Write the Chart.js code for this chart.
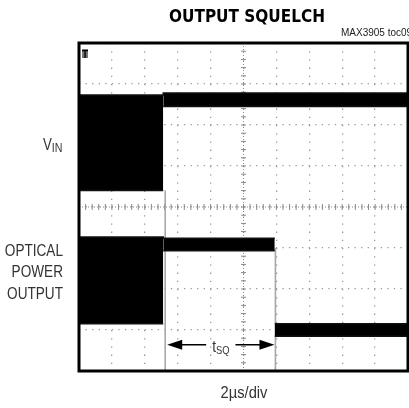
<!DOCTYPE html>
<html>
<head>
<meta charset="utf-8">
<script src="https://cdn.jsdelivr.net/npm/chart.js@4/dist/chart.umd.min.js"></script>
<style>
  html, body { margin: 0; padding: 0; background: #fff; }
  #c { display: block; }
</style>
</head>
<body>
<canvas id="c" width="409" height="408"></canvas>
<script>
// ---- Data (x in time divisions, 2 µs/div; y in vertical divisions) ----
const titleText = "OUTPUT SQUELCH";
const partText = "MAX3905 toc09";
const xLabel = "2\u00B5s/div";
const xDivisions = [0, 10];
const yDivisions = [0, 8];

// V_IN noise band (upper and lower envelope)
const vinUpperX = [0, 2.56, 2.56, 10];
const vinUpperY = [6.73, 6.73, 6.78, 6.78];
const vinLowerX = [0, 2.56, 2.56, 10];
const vinLowerY = [4.40, 4.40, 6.45, 6.45];

// Optical power output noise band (upper and lower envelope)
const optUpperX = [0, 2.56, 2.56, 5.95, 5.95, 10];
const optUpperY = [3.27, 3.27, 3.24, 3.24, 1.15, 1.15];
const optLowerX = [0, 2.56, 2.56, 5.95, 5.95, 10];
const optLowerY = [1.15, 1.15, 2.93, 2.93, 0.85, 0.85];

// squelch timing cursors (start / end of t_SQ)
const tSqStart = 2.62;
const tSqEnd = 5.97;
const cursorTopStart = 4.40;
const cursorTopEnd = 3.00;
const arrowLevel = 0.64;

const zip = (xs, ys) => xs.map((x, i) => ({ x: x, y: ys[i] }));

const segStyle = {
  borderColor: ctx => (ctx.p0.parsed.x === ctx.p1.parsed.x && Math.abs(ctx.p0.parsed.y - ctx.p1.parsed.y) > 1) ? 'rgba(0,0,0,0)' : '#111'
};

const bandBase = {
  pointRadius: 0, tension: 0, borderWidth: 1.5, borderColor: '#111',
  backgroundColor: '#000', segment: segStyle
};

const data = {
  datasets: [
    { ...bandBase, label: 'vinU', data: zip(vinUpperX, vinUpperY), fill: false },
    { ...bandBase, label: 'vinL', data: zip(vinLowerX, vinLowerY), fill: '-1' },
    { ...bandBase, label: 'optU', data: zip(optUpperX, optUpperY), fill: false },
    { ...bandBase, label: 'optL', data: zip(optLowerX, optLowerY), fill: '-1' },
    { label: 'cur1', data: [{x: tSqStart, y: yDivisions[0]}, {x: tSqStart, y: cursorTopStart}],
      pointRadius: 0, borderColor: '#a8a8a8', borderWidth: 1.6, fill: false },
    { label: 'cur2', data: [{x: tSqEnd, y: yDivisions[0]}, {x: tSqEnd, y: cursorTopEnd}],
      pointRadius: 0, borderColor: '#a8a8a8', borderWidth: 1.6, fill: false }
  ]
};

function narrowText(ctx, text, x, y, sx, align) {
  ctx.save();
  ctx.translate(x, y);
  ctx.scale(sx, 1);
  ctx.textAlign = align;
  ctx.fillText(text, 0, 0);
  const w = ctx.measureText(text).width * sx;
  ctx.restore();
  return w;
}

const decor = {
  id: 'decor',
  beforeDatasetsDraw(chart) {
    const { ctx, chartArea: a, scales: { x, y } } = chart;
    ctx.save();
    ctx.strokeStyle = '#8a8a8a';
    ctx.lineWidth = 1;
    const cx = x.getPixelForValue(5), cy = y.getPixelForValue(4);
    for (let k = 0; k <= 40; k++) {
      const py = y.getPixelForValue(k * 0.2);
      ctx.beginPath(); ctx.moveTo(cx - 2.5, py); ctx.lineTo(cx + 2.5, py); ctx.stroke();
    }
    for (let k = 0; k <= 50; k++) {
      const px = x.getPixelForValue(k * 0.2);
      ctx.beginPath(); ctx.moveTo(px, cy - 3); ctx.lineTo(px, cy + 3); ctx.stroke();
    }
    ctx.setLineDash([1, 2]);
    ctx.beginPath(); ctx.moveTo(cx, a.top); ctx.lineTo(cx, a.bottom); ctx.stroke();
    ctx.beginPath(); ctx.moveTo(a.left, cy); ctx.lineTo(a.right, cy); ctx.stroke();
    ctx.restore();
  },
  afterDraw(chart) {
    const { ctx, chartArea: a, scales: { x, y } } = chart;
    ctx.save();
    ctx.textBaseline = 'alphabetic';
    // frame
    ctx.strokeStyle = '#000';
    ctx.lineWidth = 3;
    ctx.strokeRect(a.left, a.top, a.right - a.left, a.bottom - a.top);

    // trigger marker
    ctx.fillStyle = '#777';
    ctx.fillRect(a.left + 3, a.top + 6, 6, 9);
    ctx.fillStyle = '#000';
    ctx.font = 'bold 10px "Liberation Sans"';
    ctx.textAlign = 'left';
    ctx.fillText('T', a.left + 3, a.top + 15);

    // title
    ctx.fillStyle = '#000';
    ctx.font = 'bold 17px "DejaVu Sans Condensed", "DejaVu Sans", sans-serif';
    ctx.textAlign = 'center';
    ctx.fillText(titleText, 247, 22);

    ctx.font = '10px "Liberation Sans", sans-serif';
    ctx.fillStyle = '#222';
    ctx.textAlign = 'left';
    ctx.fillText(partText, 341, 36);

    // side labels (condensed)
    ctx.fillStyle = '#333';
    ctx.font = '17px "Liberation Sans", sans-serif';
    const vw = narrowText(ctx, 'V', 43, 150, 0.78, 'left');
    ctx.font = '13px "Liberation Sans", sans-serif';
    narrowText(ctx, 'IN', 43 + vw, 152, 0.82, 'left');

    ctx.font = '17px "Liberation Sans", sans-serif';
    narrowText(ctx, 'OPTICAL', 63, 256, 0.8, 'right');
    narrowText(ctx, 'POWER', 63, 277, 0.8, 'right');
    narrowText(ctx, 'OUTPUT', 63, 299, 0.8, 'right');

    // x label
    ctx.font = '16px "Liberation Sans", sans-serif';
    narrowText(ctx, xLabel, 244, 398, 0.92, 'center');

    // t_SQ arrow
    const x1 = x.getPixelForValue(tSqStart) + 2;
    const x2 = x.getPixelForValue(tSqEnd) - 1;
    const ay = y.getPixelForValue(arrowLevel);
    ctx.font = '16px "Liberation Sans", sans-serif';
    const tw = ctx.measureText('t').width * 0.85;
    ctx.font = '11px "Liberation Sans", sans-serif';
    const sw = ctx.measureText('SQ').width * 0.85;
    const mid = (x1 + x2) / 2;
    const txtL = mid - (tw + sw) / 2;
    ctx.fillStyle = '#333';
    ctx.font = '16px "Liberation Sans", sans-serif';
    narrowText(ctx, 't', txtL, ay + 7, 0.85, 'left');
    ctx.font = '11px "Liberation Sans", sans-serif';
    narrowText(ctx, 'SQ', txtL + tw, ay + 9, 0.85, 'left');

    ctx.strokeStyle = '#000';
    ctx.fillStyle = '#000';
    ctx.lineWidth = 1.5;
    ctx.beginPath(); ctx.moveTo(x1 + 10, ay); ctx.lineTo(txtL - 6, ay); ctx.stroke();
    ctx.beginPath(); ctx.moveTo(txtL + tw + sw + 6, ay); ctx.lineTo(x2 - 10, ay); ctx.stroke();
    ctx.beginPath(); ctx.moveTo(x1, ay); ctx.lineTo(x1 + 15, ay - 5); ctx.lineTo(x1 + 15, ay + 5); ctx.closePath(); ctx.fill();
    ctx.beginPath(); ctx.moveTo(x2, ay); ctx.lineTo(x2 - 15, ay - 5); ctx.lineTo(x2 - 15, ay + 5); ctx.closePath(); ctx.fill();
    ctx.restore();
  }
};

new Chart(document.getElementById('c'), {
  type: 'line',
  data: data,
  options: {
    responsive: false,
    animation: false,
    devicePixelRatio: 1,
    layout: { padding: { left: 79, top: 43, right: 1, bottom: 37 } },
    plugins: { legend: { display: false }, tooltip: { enabled: false }, title: { display: false } },
    scales: {
      x: {
        type: 'linear', min: xDivisions[0], max: xDivisions[1],
        ticks: { display: false, stepSize: 1 },
        grid: { color: '#9a9a9a', lineWidth: 1.3, drawTicks: false },
        border: { display: false, dash: [1.3, 6.9] }
      },
      y: {
        type: 'linear', min: yDivisions[0], max: yDivisions[1],
        ticks: { display: false, stepSize: 1 },
        grid: { color: '#9a9a9a', lineWidth: 1.3, drawTicks: false },
        border: { display: false, dash: [1.3, 5.26] }
      }
    }
  },
  plugins: [decor]
});
</script>
</body>
</html>
